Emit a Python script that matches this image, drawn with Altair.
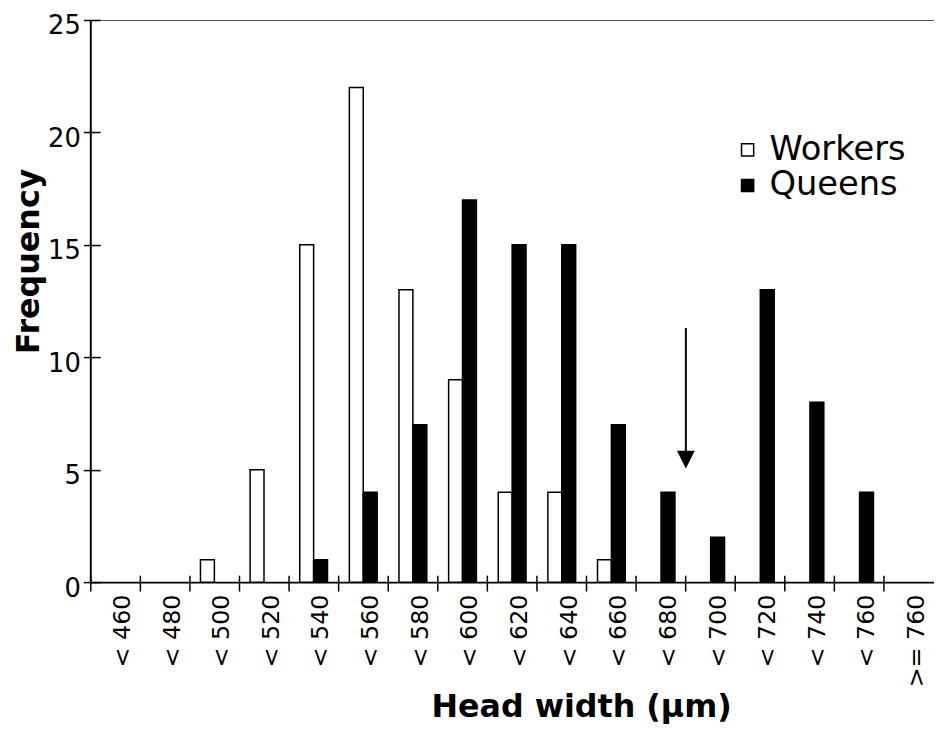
import altair as alt
import pandas as pd

bins = ["< 460", "< 480", "< 500", "< 520", "< 540", "< 560", "< 580", "< 600",
        "< 620", "< 640", "< 660", "< 680", "< 700", "< 720", "< 740", "< 760", ">= 760"]
workers = [0, 0, 1, 5, 15, 22, 13, 9, 4, 4, 1, 0, 0, 0, 0, 0, 0]
queens = [0, 0, 0, 0, 1, 4, 7, 17, 15, 15, 7, 4, 2, 13, 8, 4, 0]
castes = ["Workers", "Queens"]
caste_colors = ["white", "black"]

arrow_bin = ["< 700"]
arrow_top = [11.3]
arrow_head = [5.45]

FONT = "DejaVu Sans"
W, H = 851, 567

rows = []
for b, w, q in zip(bins, workers, queens):
    rows.append({"bin": b, "caste": "Workers", "count": w})
    rows.append({"bin": b, "caste": "Queens", "count": q})
df = pd.DataFrame(rows)
df_bins = pd.DataFrame({"bin": bins})
df_arrow = pd.DataFrame({"bin": arrow_bin, "top": arrow_top, "head": arrow_head})

xscale = alt.Scale(domain=bins, paddingInner=0, paddingOuter=0)
yscale = alt.Scale(domain=[0, 25])

bars = alt.Chart(df).transform_filter("datum.count > 0").mark_bar(
    stroke="black", strokeWidth=1.5
).encode(
    x=alt.X("bin:N", sort=bins, scale=xscale,
            axis=alt.Axis(orient="bottom", title="Head width (µm)", labelAngle=270,
                          labelFont=FONT, labelFontSize=24, labelColor="black",
                          labelPadding=12, labelOffset=8, ticks=False, tickSize=0,
                          domainColor="black", domainWidth=2,
                          titleFont=FONT, titleFontSize=32, titleFontWeight="bold",
                          titleColor="black", titleX=495, titleY=126,
                          titleAlign="center", titleBaseline="middle")),
    xOffset=alt.XOffset("caste:N", sort=castes,
                        scale=alt.Scale(domain=castes, paddingInner=0, paddingOuter=0.786)),
    y=alt.Y("count:Q", scale=yscale,
            axis=alt.Axis(orient="left", title="Frequency", values=[0, 5, 10, 15, 20, 25],
                          labelFont=FONT, labelFontSize=26, labelColor="black",
                          ticks=False, tickSize=0, labelPadding=10, labelOffset=6,
                          domainColor="black", domainWidth=2, grid=False,
                          titleFont=FONT, titleFontSize=32, titleFontWeight="bold",
                          titleColor="black", titleX=-62, titleY=243, titleAngle=270,
                          titleAlign="center", titleBaseline="middle")),
    color=alt.Color("caste:N", scale=alt.Scale(domain=castes, range=caste_colors),
                    legend=alt.Legend(orient="none", legendX=646, legendY=114, title=None,
                                      labelFont=FONT, labelFontSize=34, labelColor="black",
                                      symbolType="square", symbolSize=150,
                                      symbolStrokeColor="black", symbolStrokeWidth=1.5,
                                      labelOffset=5, rowPadding=2, padding=0)),
)

ticks = alt.Chart(df_bins).mark_point(opacity=0).encode(
    x=alt.X("bin:N", sort=bins, scale=xscale,
            axis=alt.Axis(orient="bottom", title=None, labels=False, domain=False,
                          bandPosition=0, tickSize=16, tickColor="black", tickWidth=1.5,
                          offset=-7)),
    y=alt.Y("y:Q", scale=yscale,
            axis=alt.Axis(orient="left", title=None, labels=False, domain=False,
                          values=[0, 5, 10, 15, 20, 25], tickSize=17, tickColor="black",
                          tickWidth=1.5, offset=-10, grid=False)),
).transform_calculate(y="0")

top_line = alt.Chart(df_bins).mark_point(opacity=0).encode(
    x=alt.X("bin:N", sort=bins, scale=xscale,
            axis=alt.Axis(orient="top", title=None, labels=False, ticks=False,
                          domain=True, domainColor="#555555", domainWidth=1.2)),
)

arrow_shaft = alt.Chart(df_arrow).mark_rule(color="black", strokeWidth=2).encode(
    x=alt.X("bin:N", sort=bins, scale=xscale, bandPosition=0, axis=None),
    y=alt.Y("top:Q", scale=yscale, axis=None),
    y2="head:Q",
)
arrow_tip = alt.Chart(df_arrow).mark_point(
    shape="M -1 -1 L 1 -1 L 0 1 Z", filled=True, color="black", size=324, opacity=1
).encode(
    x=alt.X("bin:N", sort=bins, scale=xscale, bandPosition=0, axis=None),
    y=alt.Y("head:Q", scale=yscale, axis=None),
)

chart = alt.layer(bars, ticks, top_line, arrow_shaft, arrow_tip).resolve_axis(
    x="independent", y="independent"
).properties(
    width=W, height=H, autosize="none",
    padding={"left": 83, "top": 9, "right": 0, "bottom": 140},
).configure_view(stroke=None).configure(background="white")

chart.save("out.html", embed_options={"renderer": "svg", "actions": False})
